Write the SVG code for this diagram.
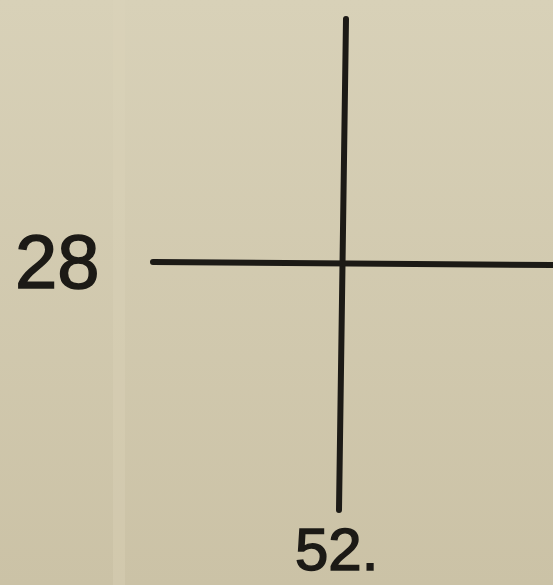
<svg xmlns="http://www.w3.org/2000/svg" width="553" height="585" viewBox="0 0 553 585">
<style>
.ln{stroke:#1c1a16;stroke-width:6;stroke-linecap:round;fill:none}
.lb{font-family:"Liberation Sans",Arial,sans-serif;fill:#1c1a16;stroke:#1c1a16;stroke-width:1.5}
</style>
<defs>
<linearGradient id="bg" x1="0" y1="0" x2="0" y2="1">
<stop offset="0" stop-color="#d8d1b8"/>
<stop offset="1" stop-color="#cbc2a6"/>
</linearGradient>
</defs>
<rect width="553" height="585" fill="url(#bg)"/>
<rect x="113" y="0" width="12" height="585" fill="#ddd3bb" opacity="0.35"/>
<g id="connectors">
<path class="ln" d="M346 19 L339 510"/>
<path class="ln" d="M153 262 L552 265"/>
</g>
<g id="label-28"><text class="lb" x="15" y="288" font-size="76">28</text></g>
<g id="label-52"><text class="lb" x="295" y="570" font-size="60">52.</text></g>
</svg>
